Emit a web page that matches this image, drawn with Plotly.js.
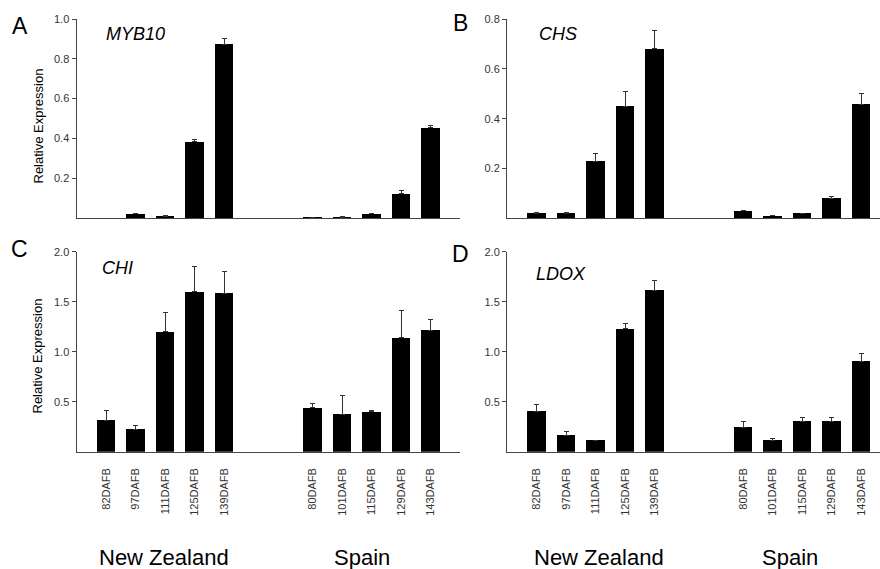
<!DOCTYPE html>
<html>
<head>
<meta charset="utf-8">
<script src="https://cdn.plot.ly/plotly-3.0.1.min.js"></script>
<style>html,body{margin:0;padding:0;background:#fff;}#chart{width:880px;height:569px;}</style>
</head>
<body>
<div id="chart"></div>
<script>
// ---- data ----
var nzLabels = ['82DAFB', '97DAFB', '111DAFB', '125DAFB', '139DAFB'];
var esLabels = ['80DAFB', '101DAFB', '115DAFB', '129DAFB', '143DAFB'];
var regionNames = ['New Zealand', 'Spain'];
var geneNames = ['MYB10', 'CHS', 'CHI', 'LDOX'];
var panelLetters = ['A', 'B', 'C', 'D'];

var myb10NZ = [0.000, 0.022, 0.010, 0.383, 0.873];
var myb10NZerr = [0.000, 0.002, 0.001, 0.012, 0.030];
var myb10ES = [0.003, 0.005, 0.021, 0.123, 0.453];
var myb10ESerr = [0.001, 0.001, 0.003, 0.014, 0.012];

var chsNZ = [0.020, 0.020, 0.229, 0.449, 0.680];
var chsNZerr = [0.004, 0.004, 0.031, 0.060, 0.072];
var chsES = [0.030, 0.010, 0.020, 0.080, 0.458];
var chsESerr = [0.003, 0.001, 0.001, 0.009, 0.042];

var chiNZ = [0.317, 0.223, 1.200, 1.600, 1.583];
var chiNZerr = [0.093, 0.044, 0.193, 0.250, 0.217];
var chiES = [0.440, 0.374, 0.400, 1.140, 1.213];
var chiESerr = [0.040, 0.193, 0.013, 0.267, 0.107];

var ldoxNZ = [0.407, 0.167, 0.117, 1.230, 1.613];
var ldoxNZerr = [0.066, 0.033, 0.000, 0.050, 0.094];
var ldoxES = [0.247, 0.117, 0.307, 0.307, 0.907];
var ldoxESerr = [0.060, 0.016, 0.036, 0.036, 0.076];

var yTicksA = [0.2, 0.4, 0.6, 0.8, 1.0];
var yTicksB = [0.2, 0.4, 0.6, 0.8];
var yTicksCD = [0.5, 1.0, 1.5, 2.0];

// ---- layout helpers ----
var W = 880, H = 569;
function fx(p) { return p / W; }
function fy(p) { return 1 - p / H; }
var GAP = 2; // empty slots between the two groups
var nzPos = nzLabels.map(function (d, i) { return i; });
var esPos = esLabels.map(function (d, i) { return i + nzLabels.length + GAP; });
var allPos = nzPos.concat(esPos);
var allLabels = nzLabels.concat(esLabels);

var FONT = 'Liberation Sans, Arial, Helvetica, sans-serif';
var AXC = '#444';

var panels = [
  {nz: myb10NZ, nze: myb10NZerr, es: myb10ES, ese: myb10ESerr, xa: 'x', ya: 'y'},
  {nz: chsNZ, nze: chsNZerr, es: chsES, ese: chsESerr, xa: 'x2', ya: 'y2'},
  {nz: chiNZ, nze: chiNZerr, es: chiES, ese: chiESerr, xa: 'x3', ya: 'y3'},
  {nz: ldoxNZ, nze: ldoxNZerr, es: ldoxES, ese: ldoxESerr, xa: 'x4', ya: 'y4'}
];

var traces = [];
panels.forEach(function (p) {
  var vals = p.nz.concat(p.es);
  var errs = p.nze.concat(p.ese);
  traces.push({
    type: 'bar', x: allPos, y: vals, xaxis: p.xa, yaxis: p.ya,
    width: 0.62,
    marker: {color: '#000', line: {color: '#000', width: 0}},
    error_y: {type: 'data', symmetric: false, array: errs,
      arrayminus: errs.map(function () { return 0; }),
      color: '#333', thickness: 1, width: 2.5},
    showlegend: false, hoverinfo: 'skip'
  });
});

function xAxis(d0, d1, range, anchor, showLabels) {
  return {
    domain: [fx(d0), fx(d1)], range: range, anchor: anchor,
    showline: true, linecolor: AXC, linewidth: 1, mirror: false,
    showgrid: false, zeroline: false, ticks: '',
    tickmode: 'array', tickvals: allPos, ticktext: allLabels,
    showticklabels: showLabels, tickangle: -90,
    ticklabelstandoff: 11,
    tickfont: {family: FONT, size: 11, color: '#333'},
    fixedrange: true
  };
}
function yAxis(top, bottom, range, ticks, anchor) {
  return {
    domain: [fy(bottom), fy(top)], range: range, anchor: anchor,
    showline: true, linecolor: AXC, linewidth: 1,
    showgrid: false, zeroline: false,
    ticks: 'outside', ticklen: 4, tickwidth: 1, tickcolor: AXC,
    tickmode: 'array', tickvals: ticks, tickformat: '.1f',
    tickfont: {family: FONT, size: 11, color: '#333'},
    fixedrange: true
  };
}

var leftX0 = 76.5, leftX1 = 460, rightX0 = 507, rightX1 = 880, slot = 29.5;
var rangeL = [-1, (leftX1 - leftX0) / slot - 1];
var rangeR = [-1, (rightX1 - rightX0) / slot - 1];

var layout = {
  width: W, height: H,
  margin: {l: 0, r: 0, t: 0, b: 0},
  paper_bgcolor: '#fff', plot_bgcolor: 'rgba(0,0,0,0)',
  bargap: 0,
  xaxis: xAxis(leftX0, leftX1, rangeL, 'y', false),
  yaxis: yAxis(19, 218, [0, 1.0], yTicksA, 'x'),
  xaxis2: xAxis(rightX0, rightX1, rangeR, 'y2', false),
  yaxis2: yAxis(19, 218.3, [0, 0.8], yTicksB, 'x2'),
  xaxis3: xAxis(leftX0, leftX1, rangeL, 'y3', true),
  yaxis3: yAxis(251.7, 451.7, [0, 2.0], yTicksCD, 'x3'),
  xaxis4: xAxis(rightX0, rightX1, rangeR, 'y4', true),
  yaxis4: yAxis(251.7, 451.7, [0, 2.0], yTicksCD, 'x4'),
  annotations: []
};

function ann(text, x, y, size, italic) {
  return {text: text, xref: 'paper', yref: 'paper', x: fx(x), y: fy(y),
    xanchor: 'center', yanchor: 'middle', showarrow: false,
    font: {family: FONT, size: size, color: '#000', style: italic ? 'italic' : 'normal'}};
}
// panel letters
var letterPos = [[20, 26], [460, 23], [19, 248.5], [460.5, 254.5]];
panelLetters.forEach(function (l, i) { layout.annotations.push(ann(l, letterPos[i][0], letterPos[i][1], 23, false)); });
// gene names
var genePos = [[135, 34.5], [558, 34], [117, 267.5], [561, 274]];
geneNames.forEach(function (g, i) { layout.annotations.push(ann(g, genePos[i][0], genePos[i][1], 18, true)); });
// y titles
[[38, 126.5], [37, 356.5]].forEach(function (p) {
  var a = ann('Relative Expression', p[0], p[1], 13, false);
  a.textangle = -90;
  layout.annotations.push(a);
});
// region labels
var regionPos = [[163.5, 557], [361.5, 557], [599, 557], [790, 557]];
regionPos.forEach(function (p, i) { layout.annotations.push(ann(regionNames[i % 2], p[0], p[1], 22, false)); });

Plotly.newPlot('chart', traces, layout, {displayModeBar: false, staticPlot: true});
</script>
</body>
</html>
